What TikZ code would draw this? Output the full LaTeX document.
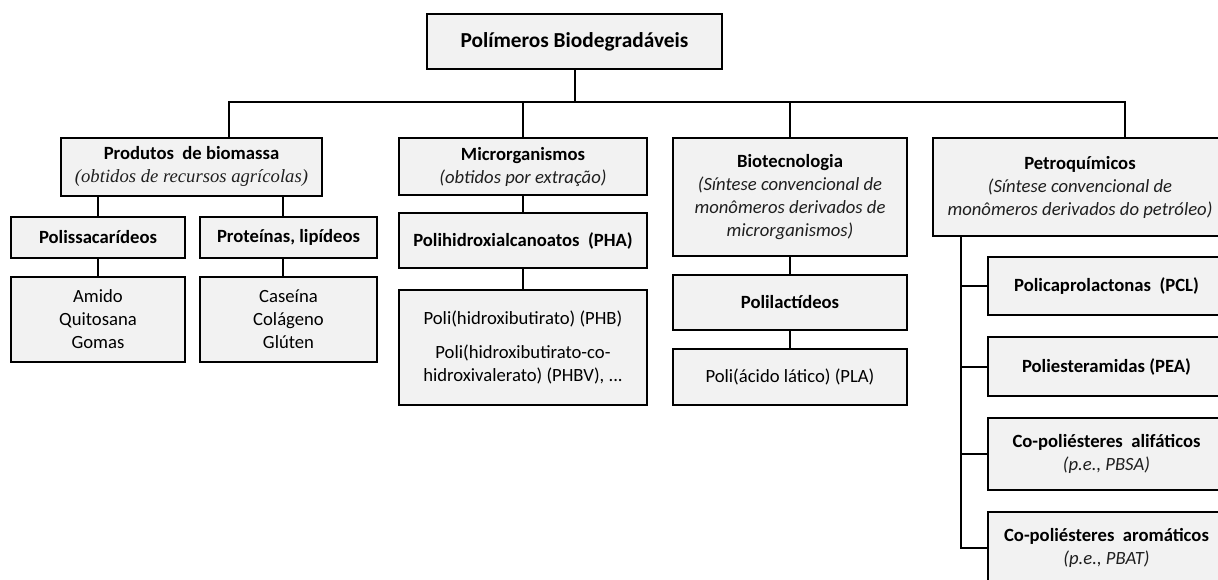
\documentclass[tikz,border=0pt]{standalone}
\usepackage{fontspec}
\setmainfont{Carlito}
\newfontfamily\timesit{Liberation Serif}
\definecolor{boxgray}{RGB}{242,242,242}
\newcommand{\obs}[1]{{\color{black!88}\itshape #1}}

\begin{document}
\begin{tikzpicture}
[x=0.75pt, y=-0.75pt, line width=1.5pt,
 box/.style={draw, fill=boxgray, align=center, inner sep=0pt, font=\fontsize{14}{17.25}\selectfont},
 sz/.style 2 args={minimum width=#1*0.75pt, minimum height=#2*0.75pt}]
\useasboundingbox (0,0) rectangle (1218,579);
\node[box, sz={295}{55}, font=\fontsize{16}{19}\selectfont\bfseries] (root) at (574.5,41.5) {Polímeros Biodegradáveis};
% produtos de biomassa
\node[box, sz={261}{58}] (biom) at (191.5,166.5) {\textbf{Produtos\ \ de biomassa}\\{\timesit\obs{(obtidos de recursos agrícolas)}}};
\node[box, sz={174}{41}] (poli) at (98,237.5) {\textbf{Polissacarídeos}};
\node[box, sz={177}{41}] (prot) at (288.5,237.5) {\textbf{Proteínas,\ lipídeos}};
\node[box, sz={174}{85}] (amido) at (98,319.5) {Amido\\Quitosana\\Gomas};
\node[box, sz={177}{85}] (caseina) at (288.5,319.5) {Caseína\\Colágeno\\Glúten};
% microrganismos
\node[box, sz={248}{57}] (micro) at (523,166.5) {\textbf{Microrganismos}\\\obs{(obtidos por extração)}};
\node[box, sz={248}{55}] (pha) at (523,240.5) {\textbf{Polihidroxialcanoatos\ \ (PHA)}};
\node[box, sz={248}{115}] (phb) at (523,347.5) {Poli(hidroxibutirato) (PHB)\\[8pt]Poli(hidroxibutirato-co-\\hidroxivalerato) (PHBV), ...};
% biotecnologia
\node[box, sz={234}{118}] (biotec) at (790,197) {\textbf{Biotecnologia}\\\obs{(Síntese convencional de}\\\obs{monômeros derivados de}\\\obs{microrganismos)}};
\node[box, sz={234}{55}] (lact) at (790,302.5) {\textbf{Polilactídeos}};
\node[box, sz={234}{56}] (pla) at (790,377) {Poli(ácido lático) (PLA)};
% petroquimicos
\node[box, sz={294}{98}] (petro) at (1080,187) {\textbf{Petroquímicos}\\\obs{(Síntese convencional de}\\\obs{monômeros derivados do petróleo)}};
\node[box, sz={237}{58}] (pcl) at (1106.5,286) {\textbf{Policaprolactonas\ \ (PCL)}};
\node[box, sz={237}{59}] (pea) at (1106.5,366.5) {\textbf{Poliesteramidas (PEA)}};
\node[box, sz={237}{72}] (alif) at (1106.5,454) {\textbf{Co-poliésteres\ \ alifáticos}\\\obs{(p.e., PBSA)}};
\node[box, sz={237}{72}] (arom) at (1106.5,548) {\textbf{Co-poliésteres\ \ aromáticos}\\\obs{(p.e., PBAT)}};

\coordinate (bus) at (574.5,102);
\coordinate (trunk) at ([xshift=21.75pt]petro.south west);
\draw (root) -- (bus);
\draw ([xshift=28pt]biom.north) |- (bus) -| ([xshift=33.75pt]petro.north);
\draw (micro) -- (micro |- bus);
\draw (biotec) -- (biotec |- bus);
\draw (poli) -- (poli |- biom.south);
\draw ([xshift=-4pt]prot.north) -- ([xshift=-4pt]prot.north |- biom.south);
\draw (poli) -- (amido);
\draw ([xshift=-4pt]prot.south) -- ([xshift=-4pt]caseina.north);
\draw (micro) -- (pha);
\draw (pha) -- (phb);
\draw (biotec) -- (lact);
\draw (lact) -- (pla);
\draw (trunk) |- (arom.west);
\foreach \n in {pcl, pea, alif}
  \draw (trunk |- \n.west) -- (\n.west);

\end{tikzpicture}
\end{document}
